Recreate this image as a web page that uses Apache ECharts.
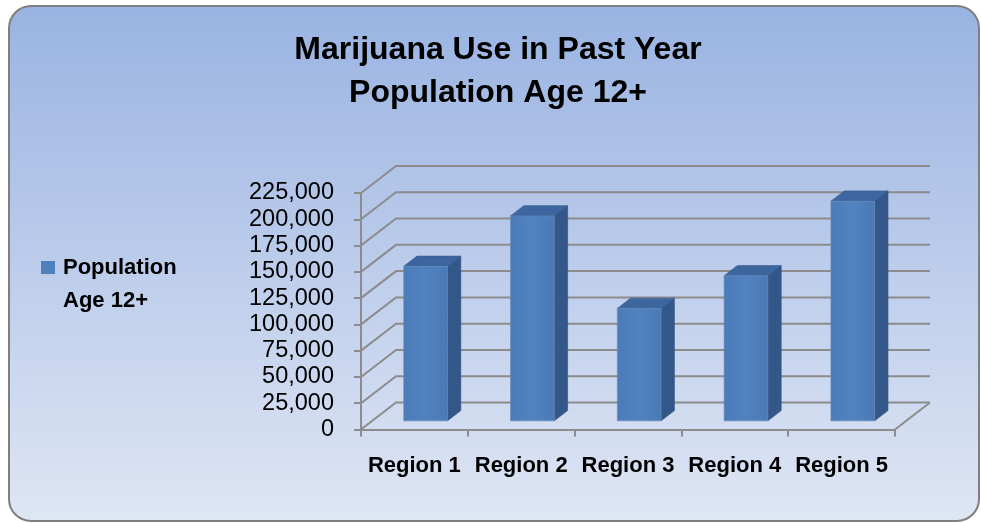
<!DOCTYPE html>
<html>
<head>
<meta charset="utf-8">
<script src="https://cdn.jsdelivr.net/npm/echarts@6/dist/echarts.min.js"></script>
<style>
html,body{margin:0;padding:0;background:#ffffff;}
#c{width:981px;height:523px;}
</style>
</head>
<body>
<div id="c"></div>
<script>
// ---- data ----
const titleLines = ['Marijuana Use in Past Year', 'Population Age 12+'];
const categories = ['Region 1', 'Region 2', 'Region 3', 'Region 4', 'Region 5'];
const seriesName = 'Population Age 12+';
const values = [147000, 195000, 107000, 138000, 209000];
const yTicks = [0, 25000, 50000, 75000, 100000, 125000, 150000, 175000, 200000, 225000];

// ---- styling / 3D projection ----
const Y_MIN = 0, Y_MAX = 225000, Y_STEP = 25000;
const DX = 35, DY = -27;       // depth offset of back wall
const F1 = 0.32, F2 = 0.70;    // bar depth span (fraction of depth)
const GRID_COLOR = '#8C8C8C';
const FONT = '"Liberation Sans", Arial, sans-serif';

const chart = echarts.init(document.getElementById('c'), null, { renderer: 'canvas' });

function gridRender(params, api) {
  const v = api.value(1);
  const cs = params.coordSys;
  const y = api.coord([0, v])[1];
  const x0 = cs.x, x1 = cs.x + cs.width;
  const children = [{
    type: 'polyline',
    shape: { points: [[x0, y], [x0 + DX, y + DY], [x1 + DX, y + DY]] },
    style: { stroke: GRID_COLOR, lineWidth: 2, fill: null }
  }];
  if (v === Y_MIN) {
    children.push({
      type: 'line',
      shape: { x1: x1, y1: y, x2: x1 + DX, y2: y + DY },
      style: { stroke: GRID_COLOR, lineWidth: 2 }
    });
  }
  return { type: 'group', children: children };
}

function barRender(params, api) {
  const i = api.value(0), v = api.value(1);
  const base = api.coord([i, Y_MIN]);
  const top = api.coord([i, v]);
  const w = api.size([1, 0])[0] * 0.41;
  const ox = DX * F1, oy = DY * F1;
  const ddx = DX * (F2 - F1), ddy = DY * (F2 - F1);
  const xl = base[0] - w / 2 + ox, xr = base[0] + w / 2 + ox;
  const yb = base[1] + oy, yt = top[1] + oy;
  return {
    type: 'group',
    children: [
      { type: 'polygon', shape: { points: [[xr, yt], [xr, yb], [xr + ddx, yb + ddy], [xr + ddx, yt + ddy]] },
        style: { fill: '#34578A', stroke: '#2F4F7C', lineWidth: 0.6 } },
      { type: 'polygon', shape: { points: [[xl, yt], [xr, yt], [xr + ddx, yt + ddy], [xl + ddx, yt + ddy]] },
        style: { fill: '#3D66A0', stroke: '#35598C', lineWidth: 0.6 } },
      { type: 'rect', shape: { x: xl, y: yt, width: xr - xl, height: yb - yt },
        style: { fill: new echarts.graphic.LinearGradient(0, 0, 1, 0, [
          { offset: 0, color: '#4B7BB8' }, { offset: 0.5, color: '#5183C0' }, { offset: 1, color: '#4A79B5' }
        ]), stroke: '#6A8CBA', lineWidth: 0.6 } }
    ]
  };
}

const option = {
  animation: false,
  backgroundColor: '#ffffff',
  graphic: [{
    type: 'rect', z: -10, silent: true,
    shape: { x: 9, y: 6, width: 970, height: 515, r: 22 },
    style: {
      fill: new echarts.graphic.LinearGradient(0, 0, 0, 1, [
        { offset: 0, color: '#99B3E2' }, { offset: 1, color: '#DFE6F4' }
      ]),
      stroke: '#7F7F7F', lineWidth: 2
    }
  }],
  title: {
    text: titleLines.join('\n'),
    left: 498, top: 29, textAlign: 'center', padding: 0,
    textStyle: { fontFamily: FONT, fontWeight: 'bold', fontSize: 32, lineHeight: 43, color: '#000' }
  },
  legend: {
    data: [{ name: seriesName, icon: 'rect' }],
    left: 41, top: 218, orient: 'vertical', padding: 0,
    itemWidth: 14, itemHeight: 13,
    formatter: function (name) { return '\n' + name.replace(' ', '\n'); },
    textStyle: { fontFamily: FONT, fontWeight: 'bold', fontSize: 22, lineHeight: 33, color: '#000', padding: [0, 0, 0, 3] }
  },
  grid: { left: 361, right: 86, top: 193, bottom: 93.5, containLabel: false },
  xAxis: {
    type: 'category', data: categories, boundaryGap: true,
    axisLine: { show: true, lineStyle: { color: GRID_COLOR, width: 2 } },
    axisTick: { show: true, length: 7, lineStyle: { color: GRID_COLOR, width: 2 } },
    axisLabel: { margin: 25, interval: 0, fontFamily: FONT, fontWeight: 'bold', fontSize: 22, color: '#000' },
    splitLine: { show: false }
  },
  yAxis: {
    type: 'value', min: Y_MIN, max: Y_MAX, interval: Y_STEP,
    axisLine: { show: true, lineStyle: { color: GRID_COLOR, width: 2 } },
    axisTick: { show: true, length: 7, lineStyle: { color: GRID_COLOR, width: 2 } },
    axisLabel: { margin: 27, fontFamily: FONT, fontSize: 23.5, color: '#000',
      formatter: function (v) { return v.toLocaleString('en-US'); } },
    splitLine: { show: false }
  },
  series: [
    { type: 'custom', name: '_walls', silent: true, z: 1,
      data: yTicks.map(function (v) { return [0, v]; }),
      renderItem: gridRender },
    { type: 'custom', name: seriesName, z: 3,
      itemStyle: { color: '#4F81BD' },
      data: values.map(function (v, i) { return [i, v]; }),
      renderItem: barRender }
  ]
};
chart.setOption(option);
</script>
</body>
</html>
